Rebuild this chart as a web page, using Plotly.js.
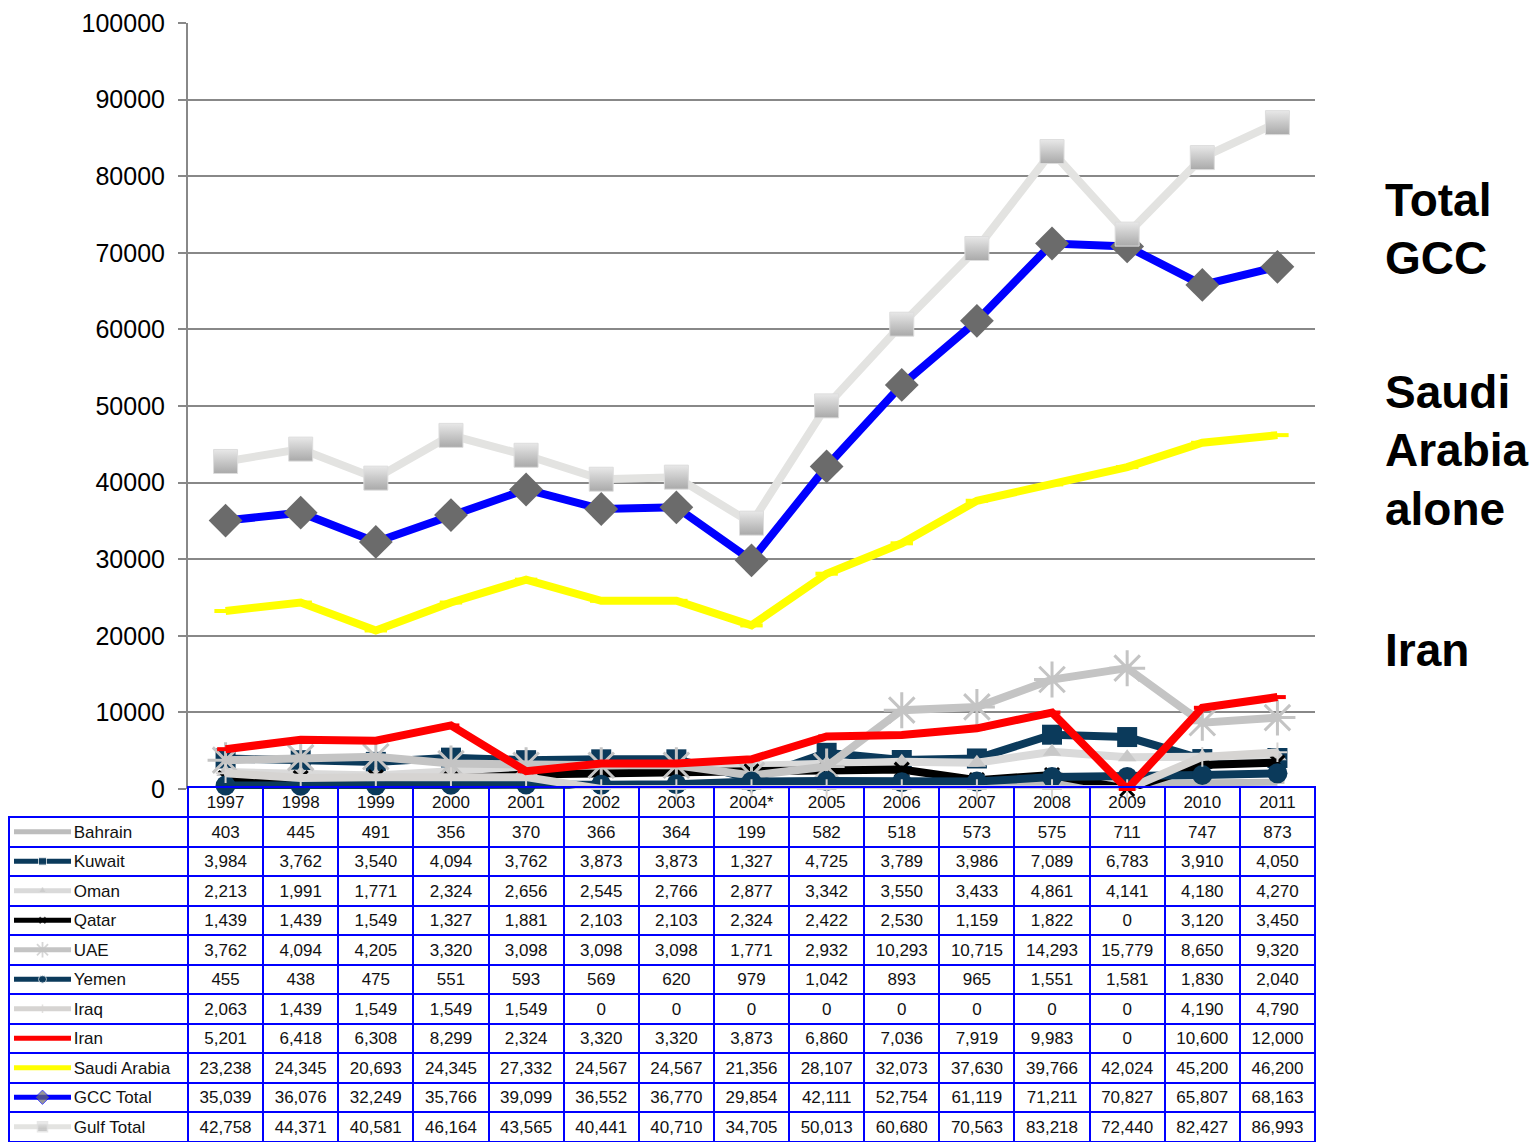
<!DOCTYPE html>
<html>
<head>
<meta charset="utf-8">
<script src="https://cdn.plot.ly/plotly-3.0.1.min.js"></script>
<style>html,body{margin:0;padding:0;background:#fff;}#chart{width:1537px;height:1142px;}</style>
</head>
<body>
<div id="chart"></div>
<script>
// ---- data ----
const years = ['1997','1998','1999','2000','2001','2002','2003','2004*','2005','2006','2007','2008','2009','2010','2011'];
const seriesNames = ['Bahrain','Kuwait','Oman','Qatar','UAE','Yemen','Iraq','Iran','Saudi Arabia','GCC Total','Gulf Total'];
const bahrain = [403,445,491,356,370,366,364,199,582,518,573,575,711,747,873];
const kuwait  = [3984,3762,3540,4094,3762,3873,3873,1327,4725,3789,3986,7089,6783,3910,4050];
const oman    = [2213,1991,1771,2324,2656,2545,2766,2877,3342,3550,3433,4861,4141,4180,4270];
const qatar   = [1439,1439,1549,1327,1881,2103,2103,2324,2422,2530,1159,1822,0,3120,3450];
const uae     = [3762,4094,4205,3320,3098,3098,3098,1771,2932,10293,10715,14293,15779,8650,9320];
const yemen   = [455,438,475,551,593,569,620,979,1042,893,965,1551,1581,1830,2040];
const iraq    = [2063,1439,1549,1549,1549,0,0,0,0,0,0,0,0,4190,4790];
const iran    = [5201,6418,6308,8299,2324,3320,3320,3873,6860,7036,7919,9983,0,10600,12000];
const saudi   = [23238,24345,20693,24345,27332,24567,24567,21356,28107,32073,37630,39766,42024,45200,46200];
const gccTotal  = [35039,36076,32249,35766,39099,36552,36770,29854,42111,52754,61119,71211,70827,65807,68163];
const gulfTotal = [42758,44371,40581,46164,43565,40441,40710,34705,50013,60680,70563,83218,72440,82427,86993];
const yTickVals = [0,10000,20000,30000,40000,50000,60000,70000,80000,90000,100000];
const sideNotes = [['Total','GCC'],['Saudi','Arabia','alone'],['Iran']];

const seriesValues = [bahrain,kuwait,oman,qatar,uae,yemen,iraq,iran,saudi,gccTotal,gulfTotal];

// ---- styles ----
const styles = [
  {color:'#bdbdbd', w:7, m:{symbol:'line-ew-open', size:10, line:{color:'#a8a8a8', width:3}}},
  {color:'#0b3a5b', w:8, m:{symbol:'square', size:20, color:'#0b3a5b'}},
  {color:'#dadada', w:8, m:{symbol:'triangle-up', size:16, color:'#c8c8c8'}},
  {color:'#000000', w:8, m:{symbol:'x-thin-open', size:14, line:{color:'#000', width:3}}},
  {color:'#c4c4c4', w:8, m:{symbol:'asterisk-open', size:30, line:{color:'#c4c4c4', width:3}}},
  {color:'#0b3a5b', w:8, m:{symbol:'circle', size:20, color:'#0b3a5b'}},
  {color:'#d6d4d2', w:8, m:{symbol:'cross-thin-open', size:14, line:{color:'#e8e8e8', width:2}}},
  {color:'#ff0000', w:8, m:{symbol:'line-ew-open', size:12, line:{color:'#8a8f99', width:4}}},
  {color:'#ffff00', w:8, m:{symbol:'line-ew-open', size:16, line:{color:'#ffffff', width:4}}},
  {color:'#0000ff', w:8, m:{symbol:'diamond', size:26, color:'#6b6b6b'}},
  {color:'#e3e3e1', w:8, m:{symbol:'square', size:24, color:'#e8e8e8', gradient:{type:'vertical', color:'#a9a9a9'}, line:{color:'#dddddd', width:1}}}
];

const W = 1537, H = 1142;
const px = x => x / W;
const py = y => (H - y) / H;

const traces = [];
seriesValues.forEach((vals, i) => {
  const s = styles[i];
  traces.push({
    type:'scatter', mode:'lines+markers', name:seriesNames[i],
    x: years, y: vals,
    line:{color:s.color, width:s.w},
    marker: s.m,
    cliponaxis:false,
    hoverinfo:'skip'
  });
});

// legend keys inside table first column
const rowTop = 817, rowH = 29.5;
seriesNames.forEach((n, i) => {
  const s = styles[i];
  const mk = Object.assign({}, s.m, {size:[0, Math.max(6, Math.round(s.m.size*0.42)), 0]});
  if (mk.line) mk.line = Object.assign({}, mk.line, {width: Math.max(1.5, mk.line.width*0.6)});
  traces.push({
    type:'scatter', mode:'lines+markers', xaxis:'x2', yaxis:'y2', showlegend:false,
    x:[0,0.5,1], y:[i,i,i],
    line:{color:s.color, width:5},
    marker: mk, hoverinfo:'skip', cliponaxis:false
  });
});

// table
const nb = '\u00a0'.repeat(12);
const cellCols = [seriesNames.map(n => nb + n)];
years.forEach((y, j) => cellCols.push(seriesValues.map(v => v[j])));
const colW = [179].concat(years.map(() => (1315-188)/15));
const clear = 'rgba(255,255,255,0)';
traces.push({
  type:'table',
  domain:{x:[px(9), px(1315)], y:[0, py(787)]},
  columnwidth: colW,
  header:{
    values:[''].concat(years),
    height:30,
    align:'center',
    font:{family:'Liberation Sans, Arial, sans-serif', size:17, color:'#111'},
    fill:{color:clear},
    line:{color:[clear].concat(years.map(()=>'#0000ff')), width:2}
  },
  cells:{
    values: cellCols,
    height: rowH,
    align:['left'].concat(years.map(()=>'center')),
    format:[''].concat(years.map(()=>',')),
    font:{family:'Liberation Sans, Arial, sans-serif', size:17, color:'#111'},
    fill:{color:clear},
    line:{color:'#0000ff', width:2}
  }
});

const annotations = [];
const noteY = [[200,258],[392,450,509],[650]];
sideNotes.forEach((lines, k) => {
  lines.forEach((t, j) => {
    annotations.push({
      xref:'paper', yref:'paper', x:px(1383), y:py(noteY[k][j]), xanchor:'left', yanchor:'middle',
      text:'<b>'+t+'</b>', showarrow:false,
      font:{family:'Liberation Sans, Arial, sans-serif', size:46, color:'#000'}
    });
  });
});

const layout = {
  width:W, height:H, autosize:false,
  margin:{l:0, r:0, t:0, b:0},
  paper_bgcolor:'#ffffff', plot_bgcolor:'#ffffff',
  showlegend:false,
  font:{family:'Liberation Sans, Arial, sans-serif', color:'#000'},
  xaxis:{
    domain:[px(188), px(1315)], type:'category', range:[-0.5, 14.5],
    showticklabels:false, showgrid:false, zeroline:false, showline:false, ticks:'', fixedrange:true
  },
  yaxis:{
    domain:[py(789), py(23)], range:[0, 100000], tickvals:yTickVals, tickformat:'d',
    showgrid:true, gridcolor:'#888888', gridwidth:2,
    showline:true, linecolor:'#888888', linewidth:2,
    zeroline:false,
    ticks:'outside', ticklen:8, tickcolor:'#888888', tickwidth:2,
    tickfont:{family:'Liberation Sans, Arial, sans-serif', size:25, color:'#000'},
    ticklabelstandoff:8, fixedrange:true
  },
  xaxis2:{domain:[px(14), px(71)], range:[0,1], visible:false, fixedrange:true, anchor:'y2'},
  yaxis2:{domain:[0, py(rowTop)], range:[(H-rowTop)/rowH - 0.5, -0.5], visible:false, fixedrange:true, anchor:'x2'},
  annotations: annotations
};

Plotly.newPlot('chart', traces, layout, {displayModeBar:false, staticPlot:true});
</script>
</body>
</html>
